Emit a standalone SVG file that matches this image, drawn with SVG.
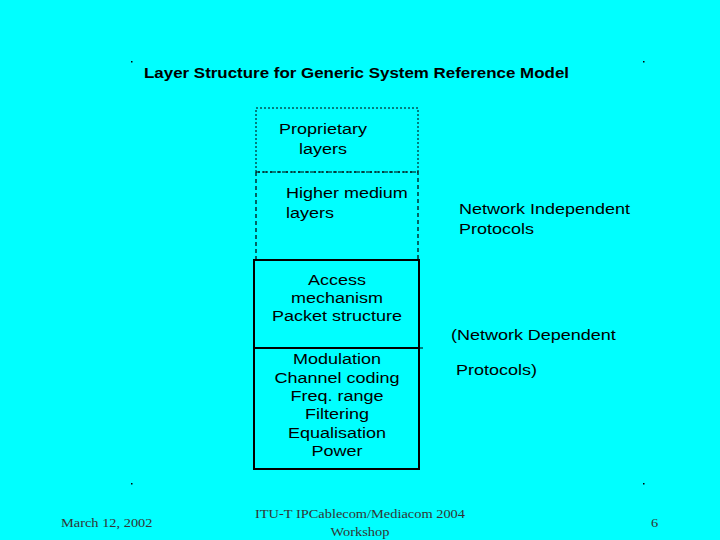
<svg xmlns="http://www.w3.org/2000/svg" width="720" height="540" viewBox="0 0 720 540">
<style>
.t{font-family:"Liberation Sans",Arial,sans-serif;font-size:15px;fill:#000}
.c{text-anchor:middle}
.f{font-family:"Liberation Serif","Times New Roman",serif;font-size:12px;fill:#333}
</style>
<rect width="720" height="540" fill="#00FFFF"/>
<g fill="#000"><rect x="131" y="61" width="1.5" height="1.5"/><rect x="643" y="61" width="1.5" height="1.5"/><rect x="131" y="483" width="1.5" height="1.5"/><rect x="643" y="483" width="1.5" height="1.5"/></g>
<text class="t" x="144" y="78" font-weight="bold" textLength="425" lengthAdjust="spacingAndGlyphs">Layer Structure for Generic System Reference Model</text>
<g id="proprietary">
<rect x="256" y="108" width="162" height="64" fill="none" stroke="#000" stroke-width="1" stroke-dasharray="2,2"/>
<g transform="scale(1.2,1)"><text class="t" x="232.5" y="134">Proprietary</text><text class="t" x="249.2" y="154">layers</text></g></g>
<g id="higher">
<path d="M256 172 H418 V260 M256 172 V260" fill="none" stroke="#000" stroke-width="1.2" stroke-dasharray="4,3"/>
<g transform="scale(1.2,1)"><text class="t" x="238.3" y="198">Higher medium</text><text class="t" x="238.3" y="218">layers</text></g></g>
<g id="access">
<rect x="254" y="260" width="165" height="88" fill="none" stroke="#000" stroke-width="2"/>
<g transform="scale(1.2,1)"><text class="t c" x="280.8" y="285">Access</text><text class="t c" x="280.8" y="303">mechanism</text><text class="t c" x="280.8" y="321">Packet structure</text></g></g>
<g id="physical">
<rect x="254" y="348" width="165" height="121" fill="none" stroke="#000" stroke-width="2"/>
<line x1="419" y1="348" x2="423" y2="348" stroke="#000"/>
<g transform="scale(1.2,1)"><text class="t c" x="280.8" y="364">Modulation</text><text class="t c" x="280.8" y="383">Channel coding</text><text class="t c" x="280.8" y="401">Freq. range</text><text class="t c" x="280.8" y="419">Filtering</text><text class="t c" x="280.8" y="438">Equalisation</text><text class="t c" x="280.8" y="456">Power</text></g></g>
<g id="labels" transform="scale(1.2,1)">
<text class="t" x="382.5" y="214">Network Independent</text><text class="t" x="382.5" y="234">Protocols</text>
<text class="t" x="375.8" y="340">(Network Dependent</text><text class="t" x="380" y="375">Protocols)</text></g>
<g id="connectors"/>
<g transform="scale(1.2,1)">
<text class="f" x="50.8" y="527">March 12, 2002</text>
<text class="f c" x="300" y="518">ITU-T IPCablecom/Mediacom 2004</text>
<text class="f c" x="300" y="536">Workshop</text>
<text class="f" x="542.5" y="527">6</text></g>
</svg>
